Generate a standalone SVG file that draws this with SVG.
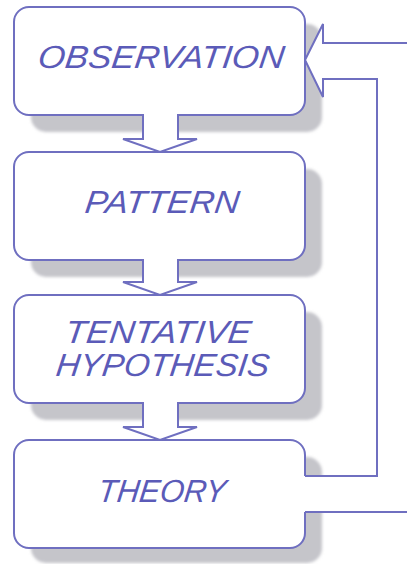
<svg xmlns="http://www.w3.org/2000/svg" width="407" height="564" viewBox="0 0 407 564">
  <defs>
    <filter id="soft" x="-10%" y="-10%" width="120%" height="120%">
      <feGaussianBlur stdDeviation="1.6"/>
    </filter>
    <style>
      .shadow { fill: #c5c5ca; filter: url(#soft); }
      .box { fill: #ffffff; stroke: #6f6fc0; stroke-width: 2; }
      .fillw { fill: #ffffff; stroke: none; }
      .edge { fill: none; stroke: #6f6fc0; stroke-width: 2; stroke-linejoin: miter; }
      .lbl { font-family: "Liberation Sans", "DejaVu Sans", sans-serif; font-style: italic; font-size: 32px; fill: #5b5bb8; }
    </style>
  </defs>
  <rect width="407" height="564" fill="#ffffff"/>

  <g id="shadows">
    <rect class="shadow" x="31" y="24" width="291" height="108" rx="15"/>
    <rect class="shadow" x="31" y="169" width="291" height="108" rx="15"/>
    <rect class="shadow" x="31" y="312" width="291" height="108" rx="15"/>
    <rect class="shadow" x="31" y="457" width="291" height="106" rx="15"/>
  </g>

  <g id="observation">
    <rect class="box" x="14" y="7" width="291" height="108" rx="15"/>
    <text class="lbl" transform="translate(37,68) skewX(-7)" textLength="246" lengthAdjust="spacingAndGlyphs">OBSERVATION</text>
  </g>
  <g id="pattern">
    <rect class="box" x="14" y="152" width="291" height="108" rx="15"/>
    <text class="lbl" transform="translate(84,213) skewX(-7)" textLength="154" lengthAdjust="spacingAndGlyphs">PATTERN</text>
  </g>
  <g id="tentative-hypothesis">
    <rect class="box" x="14" y="295" width="291" height="108" rx="15"/>
    <text class="lbl" transform="translate(64,343) skewX(-7)" textLength="186" lengthAdjust="spacingAndGlyphs">TENTATIVE</text>
    <text class="lbl" transform="translate(55,376) skewX(-7)" textLength="213" lengthAdjust="spacingAndGlyphs">HYPOTHESIS</text>
  </g>
  <g id="theory">
    <rect class="box" x="14" y="440" width="291" height="108" rx="15"/>
    <text class="lbl" transform="translate(97,502) skewX(-7)" textLength="128" lengthAdjust="spacingAndGlyphs">THEORY</text>
  </g>

  <g id="connectors">
    <!-- observation -> pattern -->
    <polygon class="fillw" points="144,112 177,112 177,139 197,139 160,152 123,139 144,139"/>
    <path class="edge" d="M143,115 V139 H123 L160,152 L197,139 H178 V115"/>
    <!-- pattern -> tentative hypothesis -->
    <polygon class="fillw" points="144,257 177,257 177,282 197,282 160,295 123,282 144,282"/>
    <path class="edge" d="M143,260 V282 H123 L160,295 L197,282 H178 V260"/>
    <!-- tentative hypothesis -> theory -->
    <polygon class="fillw" points="144,400 177,400 177,427 197,427 160,440 123,427 144,427"/>
    <path class="edge" d="M143,403 V427 H123 L160,440 L197,427 H178 V403"/>
    <!-- theory -> observation feedback -->
    <polygon class="fillw" points="303,512 412,512 412,43 323,43 323,24 305,60 323,97 323,79 377,79 377,476 303,476"/>
    <path class="edge" d="M305,512 H412 V43 H323 V24 L305,60 L323,97 V79 H377 V476 H305"/>
  </g>
</svg>
